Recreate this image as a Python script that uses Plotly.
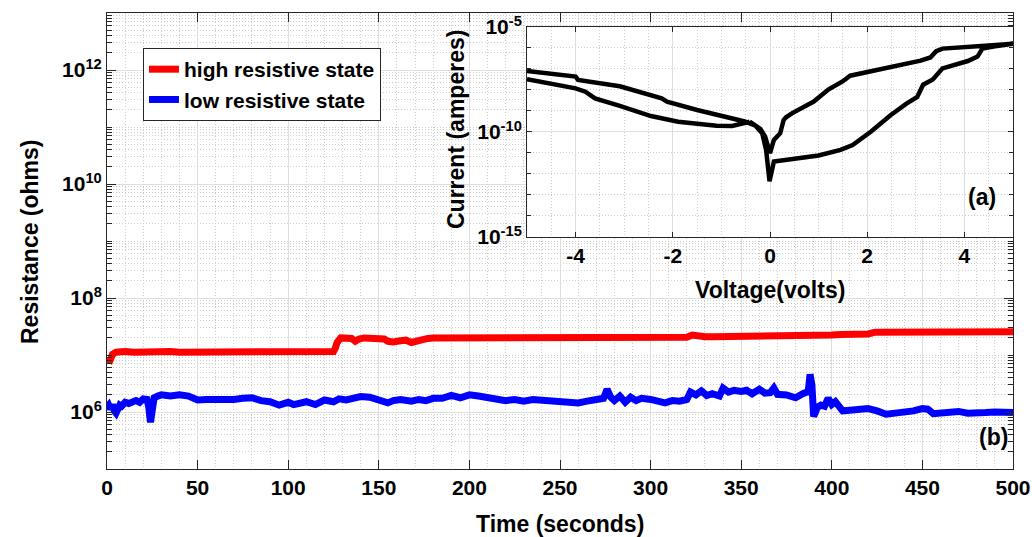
import numpy as np
import plotly.graph_objects as go

# ---------------- data ----------------
# main panel (b): resistance vs time, values stored as log10(ohms)
hrs_points = [
    (1, 6.85), (2, 6.95), (3, 7.01), (5, 7.05), (8, 7.07), (10, 7.06), (15, 7.05), (20, 7.06),
    (25, 7.05), (30, 7.05), (35, 7.06), (40, 7.05), (45, 7.05), (50, 7.05), (55, 7.06), (60, 7.05),
    (65, 7.05), (70, 7.05), (75, 7.06), (80, 7.05), (85, 7.06), (90, 7.06), (95, 7.05), (100, 7.05),
    (105, 7.05), (110, 7.06), (115, 7.05), (120, 7.05), (125, 7.06), (126, 7.12), (127, 7.22),
    (129, 7.30), (132, 7.31), (135, 7.29), (137, 7.24), (139, 7.28), (142, 7.30), (146, 7.30),
    (150, 7.29), (153, 7.28), (155, 7.24), (158, 7.23), (162, 7.25), (165, 7.26), (168, 7.22),
    (170, 7.24), (173, 7.28), (177, 7.29), (180, 7.30), (185, 7.30), (190, 7.30), (195, 7.31),
    (200, 7.31), (205, 7.31), (210, 7.31), (215, 7.31), (220, 7.31), (225, 7.30), (230, 7.31),
    (235, 7.31), (240, 7.30), (245, 7.30), (250, 7.29), (255, 7.29), (260, 7.29), (265, 7.29),
    (270, 7.29), (275, 7.30), (280, 7.29), (285, 7.29), (290, 7.29), (295, 7.29), (300, 7.29),
    (305, 7.30), (310, 7.30), (315, 7.30), (320, 7.31), (323, 7.35), (326, 7.33), (330, 7.32),
    (335, 7.32), (340, 7.32), (345, 7.33), (350, 7.33), (355, 7.33), (360, 7.34), (365, 7.34),
    (370, 7.34), (375, 7.34), (380, 7.35), (385, 7.35), (390, 7.35), (395, 7.35), (400, 7.35),
    (405, 7.36), (410, 7.36), (415, 7.36), (420, 7.37), (424, 7.40), (428, 7.40), (432, 7.40),
    (436, 7.40), (440, 7.41), (445, 7.40), (450, 7.41), (455, 7.40), (460, 7.40), (465, 7.41),
    (470, 7.41), (475, 7.41), (480, 7.41), (485, 7.41), (490, 7.41), (495, 7.41), (500, 7.41),
]

lrs_points = [
    (0, 6.08), (1, 6.12), (2, 6.05), (3, 6.13), (4, 6.02), (5, 5.98), (6, 6.05), (7, 6.12),
    (8, 6.10), (10, 6.17), (12, 6.15), (14, 6.18), (16, 6.20), (18, 6.17), (20, 6.23), (22, 6.22),
    (23, 6.10), (24, 5.82), (25, 6.10), (26, 6.25), (28, 6.28), (30, 6.30), (35, 6.28), (40, 6.30),
    (45, 6.28), (48, 6.25), (50, 6.21), (55, 6.22), (60, 6.21), (65, 6.22), (70, 6.22), (75, 6.24),
    (80, 6.25), (85, 6.20), (90, 6.18), (95, 6.12), (98, 6.15), (100, 6.17), (103, 6.13),
    (106, 6.15), (110, 6.18), (115, 6.13), (118, 6.18), (120, 6.21), (125, 6.18), (128, 6.23),
    (132, 6.21), (137, 6.24), (140, 6.27), (145, 6.26), (150, 6.20), (155, 6.16), (158, 6.20),
    (162, 6.22), (168, 6.19), (172, 6.22), (176, 6.20), (180, 6.24), (185, 6.24), (190, 6.29),
    (195, 6.25), (200, 6.30), (205, 6.28), (210, 6.25), (215, 6.22), (220, 6.20), (225, 6.22),
    (230, 6.19), (235, 6.22), (240, 6.21), (245, 6.18), (250, 6.20), (255, 6.19), (260, 6.16),
    (265, 6.19), (270, 6.22), (274, 6.24), (276, 6.40), (278, 6.26), (280, 6.20), (283, 6.28),
    (286, 6.17), (289, 6.26), (292, 6.20), (295, 6.24), (300, 6.22), (305, 6.20), (308, 6.16),
    (312, 6.20), (316, 6.19), (320, 6.22), (322, 6.35), (325, 6.30), (328, 6.37), (331, 6.29),
    (334, 6.32), (338, 6.28), (340, 6.42), (343, 6.35), (346, 6.38), (350, 6.36), (353, 6.38),
    (356, 6.32), (360, 6.40), (363, 6.33), (366, 6.34), (368, 6.42), (370, 6.31), (375, 6.30),
    (380, 6.25), (384, 6.32), (387, 6.36), (388, 6.66), (389, 6.48), (390, 5.92), (392, 6.08),
    (394, 6.12), (396, 6.10), (398, 6.24), (400, 6.13), (402, 6.18), (404, 6.12), (406, 6.02),
    (410, 6.03), (415, 6.04), (420, 6.06), (425, 6.02), (430, 5.96), (435, 5.98), (440, 5.99),
    (445, 6.02), (450, 6.06), (453, 6.05), (456, 5.97), (460, 5.98), (465, 6.00), (470, 6.01),
    (475, 5.98), (480, 6.00), (485, 5.99), (490, 6.00), (495, 5.99), (500, 5.99),
]

# inset (a): I-V loop, voltage (V) and log10(current, A)
iv_branch_1 = [  # from -5 V (upper left) through 0, out to +5 V and back to 0
    (-5.0, -7.10), (-4.5, -7.21), (-4.0, -7.36), (-3.95, -7.52), (-3.09, -7.82), (-2.23, -8.40),
    (-2.12, -8.56), (-1.5, -8.95), (-1.0, -9.22), (-0.7, -9.40), (-0.52, -9.50), (-0.3, -9.70),
    (-0.16, -10.06), (-0.08, -10.86), (-0.01, -12.35), (0.08, -11.41), (0.5, -11.30),
    (1.0, -11.12), (1.45, -10.85), (1.7, -10.62), (2.08, -9.98), (2.48, -9.20), (2.8, -8.66),
    (3.03, -8.33), (3.15, -7.75), (3.35, -7.50), (3.55, -6.97), (4.07, -6.62), (4.27, -6.41),
    (4.37, -6.03), (4.6, -5.93), (5.0, -5.80), (4.5, -5.88), (4.0, -5.96), (3.55, -6.03),
    (3.42, -6.15), (3.3, -6.45), (3.1, -6.60), (2.5, -6.90), (2.0, -7.10), (1.65, -7.32),
    (1.5, -7.58), (1.2, -7.98), (0.9, -8.55), (0.57, -8.92), (0.45, -9.11), (0.33, -9.30),
    (0.28, -9.43), (0.21, -10.06), (0.08, -10.38), (0.0, -11.01), (-0.1, -10.22), (-0.2, -9.85),
    (-0.42, -9.51),
]
iv_branch_2 = [  # lower left branch, from -5 V back to the merge point
    (-5.0, -7.49), (-4.5, -7.70), (-4.0, -7.92), (-3.8, -8.08), (-3.6, -8.40), (-3.09, -8.76),
    (-2.45, -9.24), (-1.89, -9.51), (-1.4, -9.62), (-1.1, -9.70), (-0.78, -9.71), (-0.58, -9.59),
    (-0.42, -9.51),
]

main_y_tickvals = [1e6, 1e8, 1e10, 1e12]
main_y_ticktext = ["10<sup>6</sup>", "10<sup>8</sup>", "10<sup>10</sup>", "10<sup>12</sup>"]
inset_y_tickvals = [1e-15, 1e-10, 1e-5]
inset_y_ticktext = ["10<sup>-15</sup>", "10<sup>-10</sup>", "10<sup>-5</sup>"]
inset_x_tickvals = [-4, -2, 0, 2, 4]
inset_x_ticktext = ["-4", "-2", "0", "2", "4"]

# ---------------- figure ----------------
FONT = "Liberation Sans"
AX = "#262626"
GRID = "#dedede"
MINOR = "#cdcdcd"
DOT = "1px,2px"

hrs_t, hrs_l = zip(*hrs_points)
lrs_t, lrs_l = zip(*lrs_points)
v1, l1 = zip(*iv_branch_1)
v2, l2 = zip(*iv_branch_2)

iv_v = list(v1) + [None] + list(v2)
iv_i = [10.0 ** x for x in l1] + [None] + [10.0 ** x for x in l2]

fig = go.Figure()
fig.add_trace(go.Scatter(x=list(hrs_t), y=[10.0 ** x for x in hrs_l], mode="lines",
                         name="high resistive state",
                         line=dict(color="#ff0000", width=7), xaxis="x", yaxis="y"))
fig.add_trace(go.Scatter(x=list(lrs_t), y=[10.0 ** x for x in lrs_l], mode="lines",
                         name="low resistive state",
                         line=dict(color="#0000ff", width=7), xaxis="x", yaxis="y"))
fig.add_trace(go.Scatter(x=iv_v, y=iv_i, mode="lines", showlegend=False, connectgaps=False,
                         line=dict(color="black", width=4.5), xaxis="x2", yaxis="y2"))

tickfont = dict(family=FONT, size=21, color="black", weight="bold")
common = dict(showline=True, linecolor=AX, linewidth=1, mirror="ticks", ticks="inside",
              tickcolor=AX, tickwidth=1, zeroline=False, showgrid=True, gridcolor=GRID,
              gridwidth=1, tickfont=tickfont, automargin=False)

fig.update_layout(
    template="none",
    width=1032, height=537,
    margin=dict(l=107, r=19, t=13, b=68, autoexpand=False),
    paper_bgcolor="white", plot_bgcolor="white",
    showlegend=True,
    xaxis=dict(domain=[0, 1], range=[0, 500], tick0=0, dtick=50, ticklen=9, anchor="y",
               minor=dict(dtick=10, showgrid=True, griddash=DOT, gridcolor=MINOR, ticks=""),
               **common),
    yaxis=dict(domain=[0, 1], type="log", range=[5, 13], tickvals=main_y_tickvals,
               ticktext=main_y_ticktext, ticklen=9, anchor="x",
               minor=dict(dtick="D1", showgrid=True, griddash=DOT, gridcolor=MINOR,
                          ticks="inside", ticklen=5, tickcolor=AX),
               **common),
    xaxis2=dict(domain=[0.4636, 1.0], range=[-5, 5], tickvals=inset_x_tickvals,
                ticktext=inset_x_ticktext, ticklen=5, anchor="y2",
                minor=dict(dtick=0.5, tick0=0, showgrid=True, griddash=DOT, gridcolor=MINOR,
                           ticks=""),
                **common),
    yaxis2=dict(domain=[0.5088, 0.9693], type="log", range=[-15, -5], tickvals=inset_y_tickvals,
                ticktext=inset_y_ticktext, ticklen=5, anchor="x2",
                minor=dict(dtick=1, showgrid=True, griddash=DOT, gridcolor=MINOR,
                           ticks="inside", ticklen=4, tickcolor=AX),
                **common),
    legend=dict(x=0.0397, y=0.9232, xanchor="left", yanchor="top", bgcolor="white",
                bordercolor=AX, borderwidth=1, itemwidth=30, tracegroupgap=0,
                font=dict(family=FONT, size=21, color="black", weight="bold")),
)

# white background behind the inset so the main grid does not show through
fig.add_shape(type="rect", xref="x2", yref="y2", x0=-5, x1=5, y0=-15, y1=-5,
              fillcolor="white", line=dict(width=0), layer="below")

title_font = dict(family=FONT, size=23, color="black", weight="bold")
ann = [
    dict(text="Time (seconds)", x=0.5, y=-0.1206, textangle=0),
    dict(text="Resistance (ohms)", x=-0.085, y=0.5, textangle=-90),
    dict(text="Current (amperes)", x=0.3852, y=0.7456, textangle=-90),
    dict(text="Voltage(volts)", x=0.7318, y=0.3925, textangle=0),
    dict(text="(a)", x=0.9658, y=0.5965, textangle=0),
    dict(text="(b)", x=0.978, y=0.0702, textangle=0),
]
for a in ann:
    fig.add_annotation(xref="paper", yref="paper", xanchor="center", yanchor="middle",
                       showarrow=False, font=title_font, **a)

fig.write_html("out.html", config={"displayModeBar": False},
               post_script="document.body.style.margin='0';")
